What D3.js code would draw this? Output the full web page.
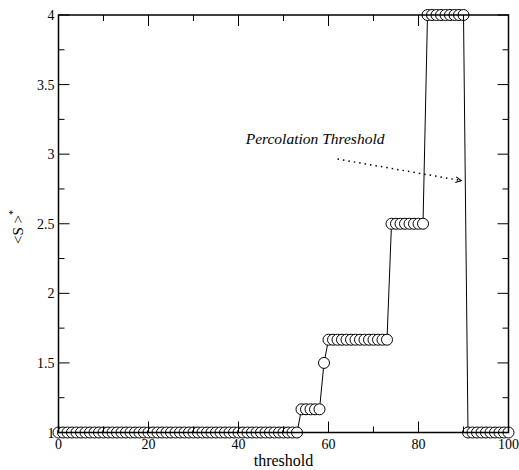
<!DOCTYPE html>
<html>
<head>
<meta charset="utf-8">
<script src="https://cdn.jsdelivr.net/npm/d3@7"></script>
<style>
  body { margin: 0; background: #fff; }
  svg { display: block; }
</style>
</head>
<body>
<script>
// threshold values and average cluster size
var thresholds = [
  0, 1, 2, 3, 4, 5, 6, 7, 8, 9, 10, 11, 12, 13, 14, 15, 16, 17, 18, 19,
  20, 21, 22, 23, 24, 25, 26, 27, 28, 29, 30, 31, 32, 33, 34, 35, 36, 37, 38, 39,
  40, 41, 42, 43, 44, 45, 46, 47, 48, 49, 50, 51, 52, 53, 54, 55, 56, 57, 58, 59,
  60, 61, 62, 63, 64, 65, 66, 67, 68, 69, 70, 71, 72, 73, 74, 75, 76, 77, 78, 79,
  80, 81, 82, 83, 84, 85, 86, 87, 88, 89, 90, 91, 92, 93, 94, 95, 96, 97, 98, 99, 100
];
var sizes = [
  1, 1, 1, 1, 1, 1, 1, 1, 1, 1, 1, 1, 1, 1, 1, 1, 1, 1, 1, 1,
  1, 1, 1, 1, 1, 1, 1, 1, 1, 1, 1, 1, 1, 1, 1, 1, 1, 1, 1, 1,
  1, 1, 1, 1, 1, 1, 1, 1, 1, 1, 1, 1, 1, 1, 1.1667, 1.1667, 1.1667, 1.1667, 1.1667, 1.5,
  1.6667, 1.6667, 1.6667, 1.6667, 1.6667, 1.6667, 1.6667, 1.6667, 1.6667, 1.6667, 1.6667, 1.6667, 1.6667, 1.6667, 2.5, 2.5, 2.5, 2.5, 2.5, 2.5,
  2.5, 2.5, 4, 4, 4, 4, 4, 4, 4, 4, 4, 1, 1, 1, 1, 1, 1, 1, 1, 1, 1
];

var xMajor = [0, 20, 40, 60, 80, 100];
var xMinor = [10, 30, 50, 70, 90];
var yMajor = [1, 1.5, 2, 2.5, 3, 3.5, 4];
var yMinor = [1.25, 1.75, 2.25, 2.75, 3.25, 3.75];

// annotation: label and dotted arrow (data coords)
var noteText = "Percolation Threshold";
var noteAt = [41.6, 3.07];
var arrowFrom = [62, 2.965];
var arrowTo = [89.5, 2.81];

var W = 519, H = 470;
var plot = { left: 58.5, right: 508.5, top: 15, bottom: 432.5 };
var serif = "'Liberation Serif', 'Times New Roman', Times, 'DejaVu Serif', serif";

var x = d3.scaleLinear().domain([0, 100]).range([plot.left, plot.right]);
var y = d3.scaleLinear().domain([1, 4]).range([plot.bottom, plot.top]);

var svg = d3.select("body").append("svg")
  .attr("width", W)
  .attr("height", H)
  .style("font-family", serif);

var data = thresholds.map(function(t, i){ return { t: t, s: sizes[i] }; });

// data line
var line = d3.line()
  .x(function(d){ return x(d.t); })
  .y(function(d){ return y(d.s); });

svg.append("path")
  .datum(data)
  .attr("d", line)
  .attr("fill", "none")
  .attr("stroke", "#000")
  .attr("stroke-width", 1);

// circles
svg.selectAll("circle.pt")
  .data(data)
  .enter()
  .append("circle")
  .attr("class", "pt")
  .attr("cx", function(d){ return x(d.t); })
  .attr("cy", function(d){ return y(d.s); })
  .attr("r", 5.5)
  .attr("fill", "#fff")
  .attr("stroke", "#000")
  .attr("stroke-width", 1);

// frame
svg.append("rect")
  .attr("x", plot.left)
  .attr("y", plot.top)
  .attr("width", plot.right - plot.left)
  .attr("height", plot.bottom - plot.top)
  .attr("fill", "none")
  .attr("stroke", "#000")
  .attr("stroke-width", 1.5);

// inward ticks on all four sides
function ticks(vals, len){
  vals.forEach(function(v){
    svg.append("line").attr("x1", x(v)).attr("x2", x(v))
      .attr("y1", plot.bottom).attr("y2", plot.bottom - len)
      .attr("stroke", "#000").attr("stroke-width", 1);
    svg.append("line").attr("x1", x(v)).attr("x2", x(v))
      .attr("y1", plot.top).attr("y2", plot.top + len)
      .attr("stroke", "#000").attr("stroke-width", 1);
  });
}
function yticks(vals, len){
  vals.forEach(function(v){
    svg.append("line").attr("y1", y(v)).attr("y2", y(v))
      .attr("x1", plot.left).attr("x2", plot.left + len)
      .attr("stroke", "#000").attr("stroke-width", 1);
    svg.append("line").attr("y1", y(v)).attr("y2", y(v))
      .attr("x1", plot.right).attr("x2", plot.right - len)
      .attr("stroke", "#000").attr("stroke-width", 1);
  });
}
ticks(xMajor, 11);
ticks(xMinor, 6);
yticks(yMajor, 11);
yticks(yMinor, 6);

// tick labels
svg.selectAll("text.xt")
  .data(xMajor)
  .enter()
  .append("text")
  .attr("x", function(d){ return x(d); })
  .attr("y", plot.bottom + 16)
  .attr("text-anchor", "middle")
  .attr("font-size", 14)
  .text(function(d){ return d; });

svg.selectAll("text.yt")
  .data(yMajor)
  .enter()
  .append("text")
  .attr("x", plot.left - 4)
  .attr("y", function(d){ return y(d) + 5; })
  .attr("text-anchor", "end")
  .attr("font-size", 14)
  .text(function(d){ return d; });

// axis titles
svg.append("text")
  .attr("x", (plot.left + plot.right) / 2)
  .attr("y", 466)
  .attr("text-anchor", "middle")
  .attr("font-size", 16)
  .text("threshold");

var yl = svg.append("text")
  .attr("transform", "translate(23,227) rotate(-90)")
  .attr("text-anchor", "middle")
  .attr("font-size", 15);
yl.append("tspan").text("<S >");
yl.append("tspan").attr("dy", -7).attr("font-size", 10).text("*");

// annotation
svg.append("text")
  .attr("x", x(noteAt[0]))
  .attr("y", y(noteAt[1]))
  .attr("font-size", 15.5)
  .attr("font-style", "italic")
  .text(noteText);

svg.append("defs").append("marker")
  .attr("id", "head")
  .attr("viewBox", "0 0 10 10")
  .attr("refX", 9).attr("refY", 5)
  .attr("markerWidth", 7).attr("markerHeight", 7)
  .attr("markerUnits", "userSpaceOnUse")
  .attr("orient", "auto")
  .append("path")
  .attr("d", "M1,1 L9,5 L1,9")
  .attr("fill", "none")
  .attr("stroke", "#000")
  .attr("stroke-width", 1.5);

svg.append("line")
  .attr("x1", x(arrowFrom[0])).attr("y1", y(arrowFrom[1]))
  .attr("x2", x(arrowTo[0])).attr("y2", y(arrowTo[1]))
  .attr("stroke", "#000")
  .attr("stroke-width", 1.5)
  .attr("stroke-dasharray", "1.5,4")
  .attr("marker-end", "url(#head)");
</script>
</body>
</html>
